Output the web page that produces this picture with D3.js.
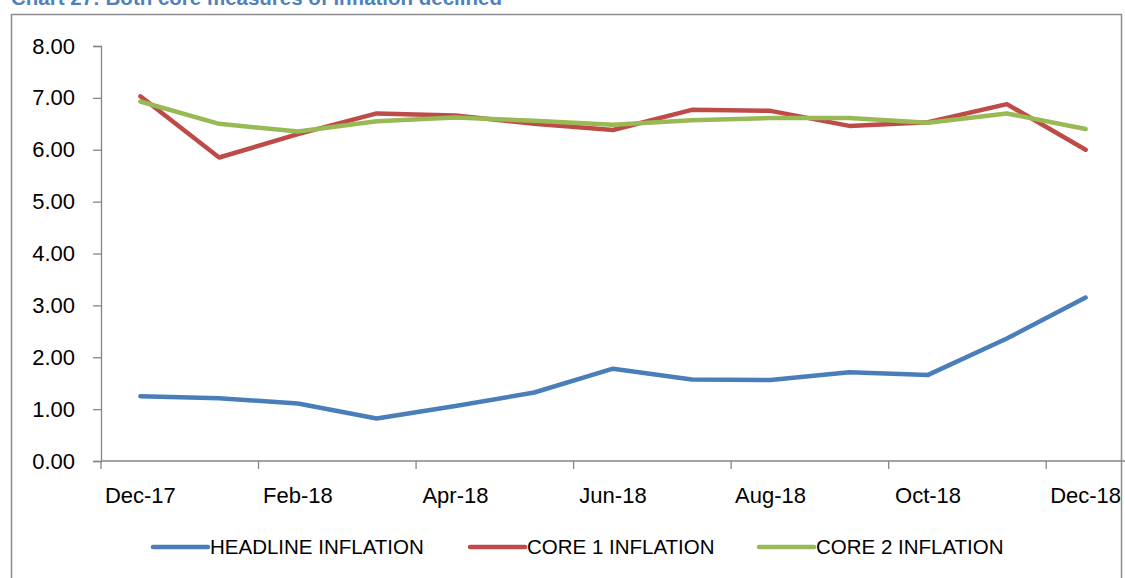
<!DOCTYPE html>
<html>
<head>
<meta charset="utf-8">
<script src="https://cdn.jsdelivr.net/npm/d3@7"></script>
<style>
  body { margin: 0; background: #fff; }
  svg { display: block; font-family: "Liberation Sans", Arial, sans-serif; }
</style>
</head>
<body>
<div id="chart"></div>
<script>
const months = ["Dec-17", "Jan-18", "Feb-18", "Mar-18", "Apr-18", "May-18", "Jun-18",
  "Jul-18", "Aug-18", "Sep-18", "Oct-18", "Nov-18", "Dec-18"];
const headline = [1.25, 1.21, 1.11, 0.82, 1.06, 1.32, 1.78, 1.57, 1.56, 1.71, 1.66, 2.36, 3.15];
const core1 = [7.03, 5.85, 6.30, 6.70, 6.66, 6.50, 6.38, 6.77, 6.75, 6.46, 6.53, 6.88, 6.00];
const core2 = [6.93, 6.50, 6.35, 6.55, 6.62, 6.56, 6.48, 6.57, 6.61, 6.61, 6.52, 6.70, 6.40];
const yTicks = [0, 1, 2, 3, 4, 5, 6, 7, 8];

const series = [
  { name: "HEADLINE INFLATION", values: headline, color: "#4A7EBB" },
  { name: "CORE 1 INFLATION", values: core1, color: "#BE4B48" },
  { name: "CORE 2 INFLATION", values: core2, color: "#98B954" },
];

const width = 1125, height = 578;
const margin = { top: 46, right: 0, bottom: 117, left: 101 };

const svg = d3.select("#chart").append("svg")
  .attr("width", width).attr("height", height);

// title (clipped at top in the original)
svg.append("text")
  .attr("x", 11).attr("y", 5)
  .attr("fill", "#4F81BD")
  .attr("font-weight", "bold")
  .attr("font-size", 20.5)
  .text("Chart 27: Both core measures of inflation declined");

// chart border
svg.append("rect")
  .attr("x", 11.5).attr("y", 14.5)
  .attr("width", 1110).attr("height", 600)
  .attr("fill", "none")
  .attr("stroke", "#8c8c8c")
  .attr("stroke-width", 1.5);

const x = d3.scaleBand()
  .domain(months)
  .range([margin.left, width - margin.right]);

const y = d3.scaleLinear()
  .domain([0, 8])
  .range([height - margin.bottom, margin.top]);

// y axis
const gy = svg.append("g")
  .attr("transform", `translate(${margin.left},0)`)
  .call(d3.axisLeft(y).tickValues(yTicks).tickFormat(d3.format(".2f")).tickSize(8).tickPadding(18))
  .attr("font-size", 22)
  .attr("font-family", null);
gy.selectAll("path, line").attr("stroke", "#868686").attr("stroke-width", 1.3);
gy.selectAll("text").attr("fill", "#000");

// x axis: ticks at band boundaries every two months, labels centred on bands
const shown = months.filter((d, i) => i % 2 === 0);
const gx = svg.append("g")
  .attr("transform", `translate(0,${y(0)})`);
gx.append("line")
  .attr("x1", margin.left).attr("x2", width - margin.right)
  .attr("stroke", "#868686").attr("stroke-width", 1.3);
gx.selectAll("line.tick")
  .data(shown)
  .join("line")
  .attr("class", "tick")
  .attr("x1", (d) => x(d)).attr("x2", (d) => x(d))
  .attr("y1", 0).attr("y2", 8)
  .attr("stroke", "#868686").attr("stroke-width", 1.3);
gx.selectAll("text")
  .data(shown)
  .join("text")
  .attr("x", (d) => x(d) + x.bandwidth() / 2)
  .attr("y", 42)
  .attr("text-anchor", "middle")
  .attr("font-size", 22)
  .attr("fill", "#000")
  .text((d) => d);

// lines
const line = d3.line()
  .x((d, i) => x(months[i]) + x.bandwidth() / 2)
  .y((d) => y(d));

svg.append("g")
  .selectAll("path")
  .data(series)
  .join("path")
  .attr("fill", "none")
  .attr("stroke", (d) => d.color)
  .attr("stroke-width", 4.5)
  .attr("stroke-linecap", "round")
  .attr("stroke-linejoin", "round")
  .attr("d", (d) => line(d.values));

// legend
const legendX = [153, 470, 759];
const legend = svg.append("g")
  .selectAll("g")
  .data(series)
  .join("g")
  .attr("transform", (d, i) => `translate(${legendX[i]},547)`);
legend.append("line")
  .attr("x1", 0).attr("x2", 55)
  .attr("stroke", (d) => d.color)
  .attr("stroke-width", 4.5)
  .attr("stroke-linecap", "round");
legend.append("text")
  .attr("x", 57).attr("y", 7)
  .attr("font-size", 20.5)
  .attr("fill", "#000")
  .text((d) => d.name);
</script>
</body>
</html>
